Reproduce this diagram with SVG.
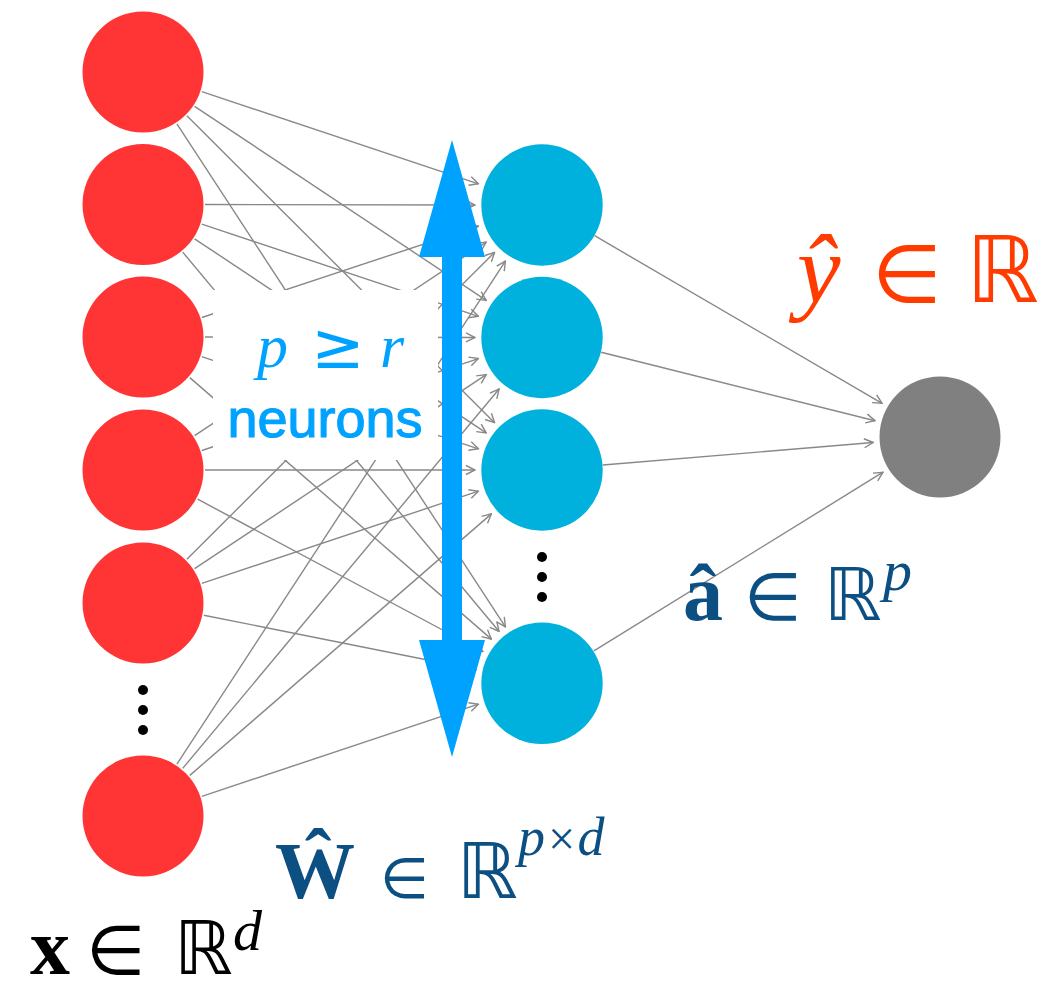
<svg xmlns="http://www.w3.org/2000/svg" width="1061" height="991" viewBox="0 0 1061 991">
<style>
.red{fill:#FF3535}
.blu{fill:#00B0DD}
.gry{fill:#808080}
.dot{fill:#000}
.ln{stroke:#888;stroke-width:1.4;fill:none;marker-end:url(#ah)}
.m{font-family:"Liberation Serif","DejaVu Serif",serif}
.s{font-family:"DejaVu Sans",sans-serif}
.it{font-style:italic}
.b{font-weight:bold}
</style>
<defs>
<marker id="ah" markerUnits="userSpaceOnUse" markerWidth="12" markerHeight="12" refX="10" refY="5" orient="auto" viewBox="-1 -1 12 12">
<path d="M1,0.5 L10,5 L1,9.5" fill="none" stroke="#888" stroke-width="1.4"/>
</marker>
</defs>
<g id="connectors">
<line class="ln" x1="201.8" y1="91.6" x2="478.4" y2="183.8"/>
<line class="ln" x1="194.6" y1="106.3" x2="486.2" y2="300.4"/>
<line class="ln" x1="186.9" y1="115.8" x2="494.6" y2="422.7"/>
<line class="ln" x1="176.9" y1="123.9" x2="505.4" y2="626.9"/>
<line class="ln" x1="205" y1="204.5" x2="475" y2="205"/>
<line class="ln" x1="201.8" y1="224.1" x2="478.4" y2="316.3"/>
<line class="ln" x1="194.6" y1="238.8" x2="486.2" y2="432.9"/>
<line class="ln" x1="182.7" y1="252.1" x2="499.1" y2="631.5"/>
<line class="ln" x1="201.9" y1="317.5" x2="478.4" y2="226"/>
<line class="ln" x1="205" y1="337" x2="475" y2="337.5"/>
<line class="ln" x1="201.8" y1="356.6" x2="478.4" y2="448.8"/>
<line class="ln" x1="189.8" y1="377.6" x2="491.4" y2="639.1"/>
<line class="ln" x1="194.6" y1="435.7" x2="486.2" y2="242.1"/>
<line class="ln" x1="201.8" y1="450.5" x2="478.4" y2="358.6"/>
<line class="ln" x1="205" y1="470" x2="475" y2="470"/>
<line class="ln" x1="197.7" y1="499.2" x2="482.9" y2="651.5"/>
<line class="ln" x1="186.9" y1="559.2" x2="494.6" y2="252.3"/>
<line class="ln" x1="194.6" y1="568.7" x2="486.2" y2="374.6"/>
<line class="ln" x1="201.8" y1="583.4" x2="478.4" y2="491.2"/>
<line class="ln" x1="203.8" y1="615.2" x2="476.3" y2="669.8"/>
<line class="ln" x1="176.9" y1="764.1" x2="505.4" y2="261.1"/>
<line class="ln" x1="182.7" y1="768.4" x2="499.1" y2="389"/>
<line class="ln" x1="189.8" y1="775.4" x2="491.4" y2="513.9"/>
<line class="ln" x1="201.8" y1="796.4" x2="478.4" y2="704.2"/>
<line class="ln" x1="594.6" y1="235.7" x2="882.1" y2="403.3"/>
<line class="ln" x1="601.2" y1="352.3" x2="875" y2="420.7"/>
<line class="ln" x1="602.8" y1="465" x2="873.2" y2="442.5"/>
<line class="ln" x1="593.9" y1="650.9" x2="883" y2="472.2"/>
</g>
<g id="label-box">
<rect x="213" y="290" width="225" height="170" fill="#fff"/>
<text class="m it" x="257" y="367" font-size="62" fill="#00A2FF">p</text>
<text class="s" x="311" y="368" font-size="64" fill="#00A2FF">≥</text>
<text class="m it" x="380" y="367" font-size="62" fill="#00A2FF">r</text>
<text x="325" y="437" font-family="Liberation Sans, Arial, sans-serif" font-size="54" fill="#00A2FF" stroke="#00A2FF" stroke-width="1.2" text-anchor="middle">neurons</text>
</g>
<g id="width-arrow">
<path d="M452,140 L485,257 L462,257 L462,640 L485,640 L452,757 L419,640 L442,640 L442,257 L419,257 Z" fill="#00A2FF"/>
</g>
<g id="input-layer">
<circle class="red" cx="143" cy="72" r="60.5"/>
<circle class="red" cx="143" cy="204.5" r="60.5"/>
<circle class="red" cx="143" cy="337" r="60.5"/>
<circle class="red" cx="143" cy="470" r="60.5"/>
<circle class="red" cx="143" cy="603" r="60.5"/>
<circle class="red" cx="143" cy="816" r="60.5"/>
<circle class="dot" cx="143" cy="690" r="5"/>
<circle class="dot" cx="143" cy="710" r="5"/>
<circle class="dot" cx="143" cy="730" r="5"/>
</g>
<g id="hidden-layer">
<circle class="blu" cx="542" cy="205" r="60.7"/>
<circle class="blu" cx="542" cy="337.5" r="60.7"/>
<circle class="blu" cx="542" cy="470" r="60.7"/>
<circle class="blu" cx="542" cy="683.3" r="60.7"/>
<circle class="dot" cx="542" cy="557" r="5"/>
<circle class="dot" cx="542" cy="577" r="5"/>
<circle class="dot" cx="542" cy="597" r="5"/>
</g>
<g id="output-node">
<circle class="gry" cx="940" cy="437" r="60.5"/>
</g>
<g id="label-y" fill="#FF3B00">
<text class="m it" x="797" y="302" font-size="98">ŷ</text>
<text class="s" x="872" y="302" font-size="80">∈</text>
<text class="s" x="966" y="302" font-size="92">ℝ</text>
</g>
<g id="label-a" fill="#0B4F83">
<text class="m b" x="683" y="620" font-size="80">â</text>
<text class="s" x="744" y="620" font-size="66">∈</text>
<text class="s" x="824" y="620" font-size="73">ℝ</text>
<text class="m it" x="883" y="590" font-size="58">p</text>
</g>
<g id="label-W" fill="#0B4F83">
<text class="m b" x="275" y="898" font-size="80">Ŵ</text>
<text class="s" x="380" y="898" font-size="56">∈</text>
<text class="s" x="457" y="898" font-size="77">ℝ</text>
<text class="m it" x="518" y="855" font-size="54">p<tspan font-size="48">×</tspan>d</text>
</g>
<g id="label-x" fill="#000">
<text class="m b" x="30" y="974" font-size="80">x</text>
<text class="s" x="86" y="974" font-size="68">∈</text>
<text class="s" x="174" y="974" font-size="74">ℝ</text>
<text class="m it" x="233" y="950" font-size="58">d</text>
</g>
</svg>
